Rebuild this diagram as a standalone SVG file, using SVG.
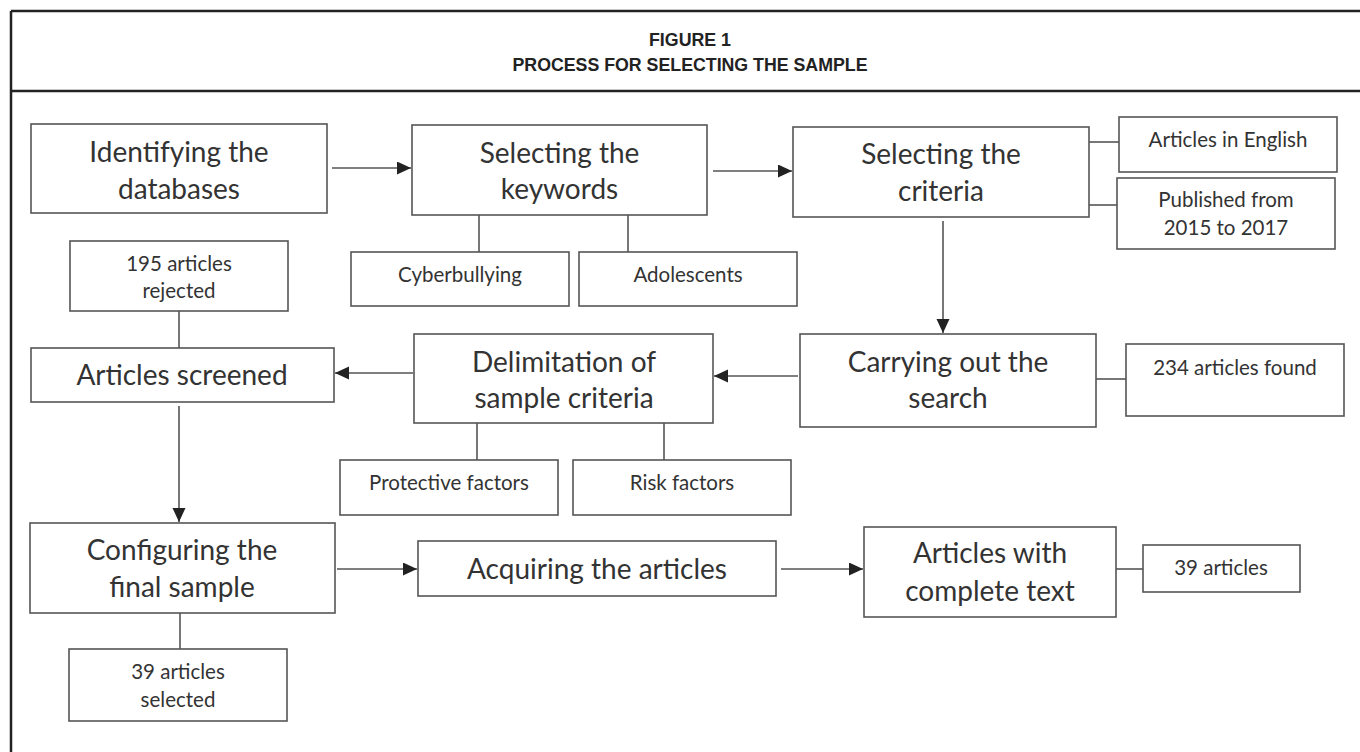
<svg xmlns="http://www.w3.org/2000/svg" width="1360" height="752" viewBox="0 0 1360 752">
<defs>
<style>
.box{fill:#ffffff;stroke:#555;stroke-width:1.6}
.big{font-family:Lato,"Liberation Sans",sans-serif;font-size:28px;fill:#333;text-anchor:middle}
.small{font-family:Lato,"Liberation Sans",sans-serif;font-size:20.5px;fill:#333;text-anchor:middle}
.title{font-family:"Liberation Sans",Arial,sans-serif;font-weight:bold;font-size:19px;fill:#222;text-anchor:middle}
.conn line{stroke:#555;stroke-width:1.6}
.frame{stroke:#222;stroke-width:2.5;fill:none}
</style>
<marker id="arr" markerUnits="userSpaceOnUse" markerWidth="15" markerHeight="14" refX="14" refY="6.5" orient="auto">
<path d="M0,0 L14,6.5 L0,13 z" fill="#222"/>
</marker>
</defs>
<rect width="1360" height="752" fill="#ffffff"/>
<g id="frame">
<line class="frame" x1="11" y1="11" x2="1360" y2="11"/>
<line class="frame" x1="11" y1="11" x2="11" y2="752"/>
<line class="frame" x1="11" y1="91" x2="1360" y2="91"/>
<text class="title" x="690" y="46" textLength="82" lengthAdjust="spacingAndGlyphs">FIGURE 1</text>
<text class="title" x="690" y="71" textLength="355" lengthAdjust="spacingAndGlyphs">PROCESS FOR SELECTING THE SAMPLE</text>
</g>
<g id="connectors" class="conn">
<line x1="332" y1="168" x2="411" y2="168" marker-end="url(#arr)"/>
<line x1="713" y1="171" x2="792" y2="171" marker-end="url(#arr)"/>
<line x1="1089" y1="142" x2="1119" y2="142"/>
<line x1="1089" y1="205" x2="1117" y2="205"/>
<line x1="479" y1="215" x2="479" y2="252"/>
<line x1="628" y1="215" x2="628" y2="252"/>
<line x1="943" y1="221" x2="943" y2="333" marker-end="url(#arr)"/>
<line x1="1096" y1="379" x2="1126" y2="379"/>
<line x1="798" y1="376" x2="714" y2="376" marker-end="url(#arr)"/>
<line x1="413" y1="373" x2="335" y2="373" marker-end="url(#arr)"/>
<line x1="179" y1="311" x2="179" y2="348"/>
<line x1="477" y1="423" x2="477" y2="460"/>
<line x1="664" y1="423" x2="664" y2="460"/>
<line x1="179" y1="406" x2="179" y2="522" marker-end="url(#arr)"/>
<line x1="180" y1="613" x2="180" y2="649"/>
<line x1="337" y1="569" x2="417" y2="569" marker-end="url(#arr)"/>
<line x1="781" y1="569" x2="863" y2="569" marker-end="url(#arr)"/>
<line x1="1116" y1="569" x2="1143" y2="569"/>
</g>
<g id="identify"><rect class="box" x="31" y="124" width="296" height="89"/><text class="big" x="179" y="162">Identifying the</text><text class="big" x="179" y="199">databases</text></g>
<g id="keywords"><rect class="box" x="412" y="125" width="295" height="90"/><text class="big" x="559.5" y="163">Selecting the</text><text class="big" x="559.5" y="199">keywords</text></g>
<g id="criteria"><rect class="box" x="793" y="127" width="296" height="90"/><text class="big" x="941" y="164">Selecting the</text><text class="big" x="941" y="201">criteria</text></g>
<g id="english"><rect class="box" x="1119" y="117" width="218" height="55"/><text class="small" x="1228" y="147">Articles in English</text></g>
<g id="published"><rect class="box" x="1117" y="178" width="218" height="71"/><text class="small" x="1226" y="207">Published from</text><text class="small" x="1226" y="235">2015 to 2017</text></g>
<g id="cyber"><rect class="box" x="351" y="252" width="218" height="54"/><text class="small" x="460" y="282">Cyberbullying</text></g>
<g id="adolescents"><rect class="box" x="579" y="252" width="218" height="54"/><text class="small" x="688" y="282">Adolescents</text></g>
<g id="rejected"><rect class="box" x="70" y="241" width="218" height="70"/><text class="small" x="179" y="271">195 articles</text><text class="small" x="179" y="298">rejected</text></g>
<g id="screened"><rect class="box" x="31" y="348" width="303" height="54"/><text class="big" x="182" y="385">Articles screened</text></g>
<g id="delimitation"><rect class="box" x="414" y="334" width="299" height="89"/><text class="big" x="564" y="372">Delimitation of</text><text class="big" x="564" y="408">sample criteria</text></g>
<g id="carrying"><rect class="box" x="800" y="334" width="296" height="93"/><text class="big" x="948" y="372">Carrying out the</text><text class="big" x="948" y="408">search</text></g>
<g id="found"><rect class="box" x="1126" y="344" width="218" height="72"/><text class="small" x="1235" y="375">234 articles found</text></g>
<g id="protective"><rect class="box" x="340" y="460" width="218" height="55"/><text class="small" x="449" y="490">Protective factors</text></g>
<g id="risk"><rect class="box" x="573" y="460" width="218" height="55"/><text class="small" x="682" y="490">Risk factors</text></g>
<g id="configuring"><rect class="box" x="30" y="523" width="305" height="90"/><text class="big" x="182" y="560">Configuring the</text><text class="big" x="182" y="597">final sample</text></g>
<g id="acquiring"><rect class="box" x="418" y="541" width="358" height="55"/><text class="big" x="597" y="579">Acquiring the articles</text></g>
<g id="complete"><rect class="box" x="864" y="527" width="252" height="90"/><text class="big" x="990" y="563">Articles with</text><text class="big" x="990" y="601">complete text</text></g>
<g id="thirtynine"><rect class="box" x="1143" y="545" width="157" height="47"/><text class="small" x="1221" y="575">39 articles</text></g>
<g id="selected"><rect class="box" x="69" y="649" width="218" height="72"/><text class="small" x="178" y="679">39 articles</text><text class="small" x="178" y="707">selected</text></g>
</svg>
